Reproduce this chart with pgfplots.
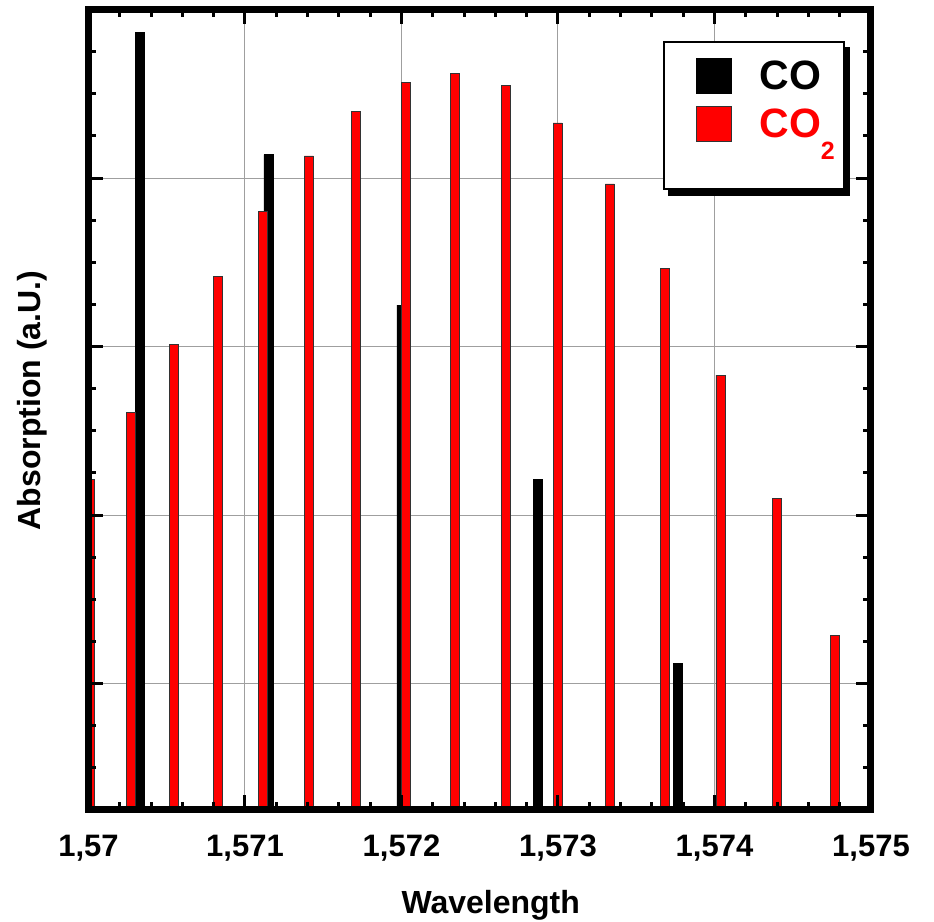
\documentclass[border=0pt]{standalone}
\usepackage{fontspec}
\setmainfont{Liberation Sans}
\usepackage{pgfplots}
\usepackage{pgfplotstable}
\pgfplotsset{compat=1.18}
\pgfplotsset{layers/mylayers/.define layer set={axis background,axis grid,main,axis ticks,axis lines,axis tick labels,axis descriptions,axis foreground}{/pgfplots/layers/standard}}
\pgfplotsset{sq legend/.style={legend image code/.code={\path[draw=none,fill=none] (-12pt,0) -- (0pt,0); \draw[##1, line width=0.5pt] (0pt,-8.75pt) rectangle (17.5pt,8.75pt);}}}

% x = (wavelength - 1.57) * 1000
\pgfplotstableread{
x y
0.328 4.862
1.150 4.139
2.000 3.246
2.872 2.212
3.769 1.119
}\co
\pgfplotstableread{
x y
0.006 2.212
0.273 2.610
0.545 3.014
0.826 3.418
1.115 3.799
1.408 4.131
1.711 4.393
2.026 4.565
2.341 4.619
2.665 4.547
2.997 4.327
3.332 3.965
3.686 3.466
4.038 2.830
4.401 2.099
4.772 1.285
}\cotwo

\begin{document}
\begin{tikzpicture}
\begin{axis}[
  set layers=mylayers,
  scale only axis, width=391.25pt, height=400.25pt,
  xmin=0, xmax=5, ymin=0.25, ymax=5,
  ybar, bar width=4.5pt, bar shift=0pt,
  xtick={0,1,2,3,4,5},
  xticklabels={{1,57},{1,571},{1,572},{1,573},{1,574},{1,575}},
  minor x tick num=4,
  ytick={1,2,3,4}, yticklabels={},
  minor ytick={0.25,0.5,0.75,1.25,1.5,1.75,2.25,2.5,2.75,3.25,3.5,3.75,4.25,4.5,4.75},
  tick pos=both, tick align=inside,
  major tick length=7.5pt, minor tick length=4pt,
  every tick/.style={black, line width=1.5pt},
  axis line style={line width=3.5pt},
  grid=major, major grid style={gray!75, line width=0.5pt},
  xticklabel style={font=\fontsize{15.5}{15.5}\selectfont\bfseries, yshift=-9pt},
  xlabel={Wavelength}, ylabel={Absorption (a.U.)},
  xlabel style={at={(axis description cs:0.514,-0.1187)}, anchor=center, font=\fontsize{16}{16}\selectfont\bfseries},
  ylabel style={at={(axis description cs:-0.0722,0.5116)}, anchor=center, font=\fontsize{16}{16}\selectfont\bfseries},
  legend style={name=leg, at={(axis description cs:0.9668,0.9606)}, anchor=north east,
    draw=black, line width=1.2pt, fill=white,
    inner xsep=4.5pt, inner ysep=8pt, row sep=6pt, column sep=13.5pt,
    font=\fontsize{20.5}{20.5}\selectfont\bfseries,
    nodes={inner sep=0pt}},
  legend cell align=left,
]
\addplot[fill=black, draw=black, line width=0.4pt, sq legend]
  table[x=x, y=y] {\co};
\addlegendentry{CO}
\addplot[fill=red, draw=black!80, line width=0.4pt, sq legend]
  table[x=x, y=y] {\cotwo};
\addlegendentry{\textcolor{red}{CO\raisebox{-11pt}{\fontsize{12.5}{12.5}\selectfont 2}}}
\addlegendimage{empty legend}
\addlegendentry{\rule{0pt}{8pt}}
\end{axis}
% legend drop shadow
\fill[black] ([xshift=0pt,yshift=-3pt]leg.north east) rectangle ([xshift=2.5pt,yshift=-3pt]leg.south east);
\fill[black] ([xshift=2.5pt,yshift=0pt]leg.south west) rectangle ([xshift=2.5pt,yshift=-3pt]leg.south east);
\pgfresetboundingbox
\path[use as bounding box] (-44.25pt,-56pt) rectangle (422.75pt,405pt);
\end{tikzpicture}
\end{document}
